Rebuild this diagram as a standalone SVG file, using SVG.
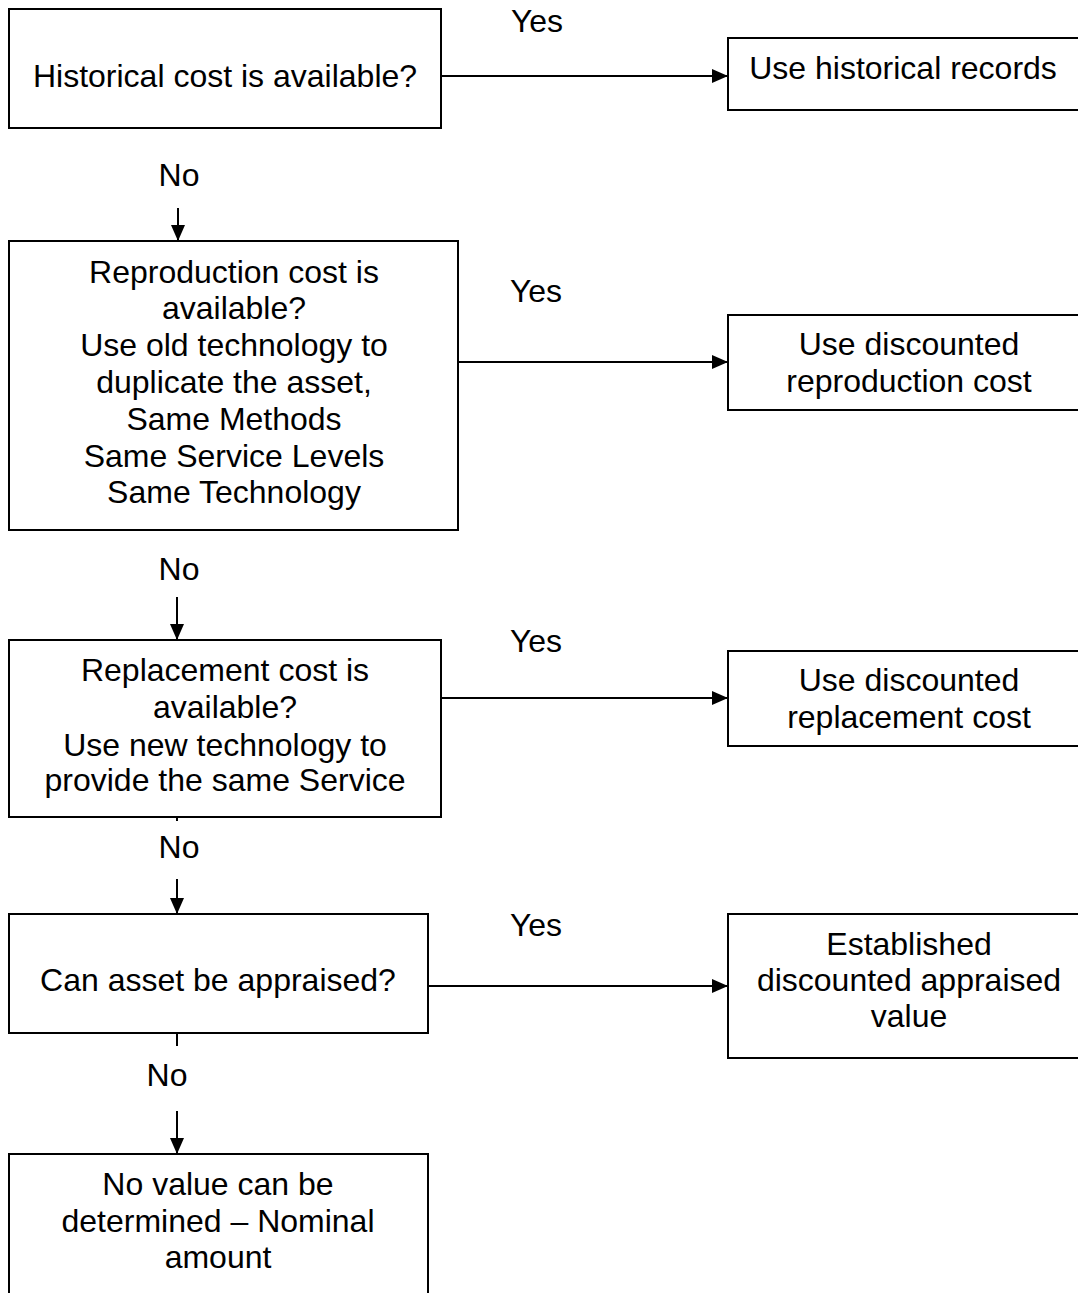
<svg xmlns="http://www.w3.org/2000/svg" width="1078" height="1293" viewBox="0 0 1078 1293">
<defs>
<style>
.box{fill:#fff;stroke:#000;stroke-width:2}
.t{font-family:"Liberation Sans",Arial,sans-serif;font-size:32px;fill:#000;text-anchor:middle}
.c{stroke:#000;stroke-width:2;fill:none}
</style>
<marker id="ah" markerWidth="16" markerHeight="14" refX="16" refY="7" orient="auto" markerUnits="userSpaceOnUse">
<path d="M0,0 L16,7 L0,14 Z" fill="#000"/>
</marker>
</defs>
<rect width="1078" height="1293" fill="#fff"/>
<g id="connectors">
<line class="c" x1="441" y1="76" x2="728" y2="76" marker-end="url(#ah)"/>
<line class="c" x1="178" y1="208" x2="178" y2="241" marker-end="url(#ah)"/>
<line class="c" x1="458" y1="362" x2="728" y2="362" marker-end="url(#ah)"/>
<line class="c" x1="177" y1="597" x2="177" y2="640" marker-end="url(#ah)"/>
<line class="c" x1="441" y1="698" x2="728" y2="698" marker-end="url(#ah)"/>
<line class="c" x1="177" y1="817" x2="177" y2="821"/>
<line class="c" x1="177" y1="879" x2="177" y2="914" marker-end="url(#ah)"/>
<line class="c" x1="428" y1="986" x2="728" y2="986" marker-end="url(#ah)"/>
<line class="c" x1="177" y1="1033" x2="177" y2="1046"/>
<line class="c" x1="177" y1="1111" x2="177" y2="1154" marker-end="url(#ah)"/>
<text class="t" x="537" y="32">Yes</text>
<text class="t" x="179" y="186">No</text>
<text class="t" x="536" y="302">Yes</text>
<text class="t" x="179" y="580">No</text>
<text class="t" x="536" y="652">Yes</text>
<text class="t" x="179" y="858">No</text>
<text class="t" x="536" y="936">Yes</text>
<text class="t" x="167" y="1086">No</text>
</g>
<g id="n1">
<rect class="box" x="9" y="9" width="432" height="119"/>
<text class="t" x="225" y="87">Historical cost is available?</text>
</g>
<g id="n2">
<rect class="box" x="728" y="38" width="370" height="72"/>
<text class="t" x="903" y="79">Use historical records</text>
</g>
<g id="n3">
<rect class="box" x="9" y="241" width="449" height="289"/>
<text class="t" x="234" y="283">Reproduction cost is</text>
<text class="t" x="234" y="319">available?</text>
<text class="t" x="234" y="356">Use old technology to</text>
<text class="t" x="234" y="393">duplicate the asset,</text>
<text class="t" x="234" y="430">Same Methods</text>
<text class="t" x="234" y="467">Same Service Levels</text>
<text class="t" x="234" y="503">Same Technology</text>
</g>
<g id="n4">
<rect class="box" x="728" y="315" width="370" height="95"/>
<text class="t" x="909" y="355">Use discounted</text>
<text class="t" x="909" y="392">reproduction cost</text>
</g>
<g id="n5">
<rect class="box" x="9" y="640" width="432" height="177"/>
<text class="t" x="225" y="681">Replacement cost is</text>
<text class="t" x="225" y="718">available?</text>
<text class="t" x="225" y="756">Use new technology to</text>
<text class="t" x="225" y="791">provide the same Service</text>
</g>
<g id="n6">
<rect class="box" x="728" y="651" width="370" height="95"/>
<text class="t" x="909" y="691">Use discounted</text>
<text class="t" x="909" y="728">replacement cost</text>
</g>
<g id="n7">
<rect class="box" x="9" y="914" width="419" height="119"/>
<text class="t" x="218" y="991">Can asset be appraised?</text>
</g>
<g id="n8">
<rect class="box" x="728" y="914" width="370" height="144"/>
<text class="t" x="909" y="955">Established</text>
<text class="t" x="909" y="991">discounted appraised</text>
<text class="t" x="909" y="1027">value</text>
</g>
<g id="n9">
<rect class="box" x="9" y="1154" width="419" height="160"/>
<text class="t" x="218" y="1195">No value can be</text>
<text class="t" x="218" y="1232">determined – Nominal</text>
<text class="t" x="218" y="1268">amount</text>
</g>
</svg>
